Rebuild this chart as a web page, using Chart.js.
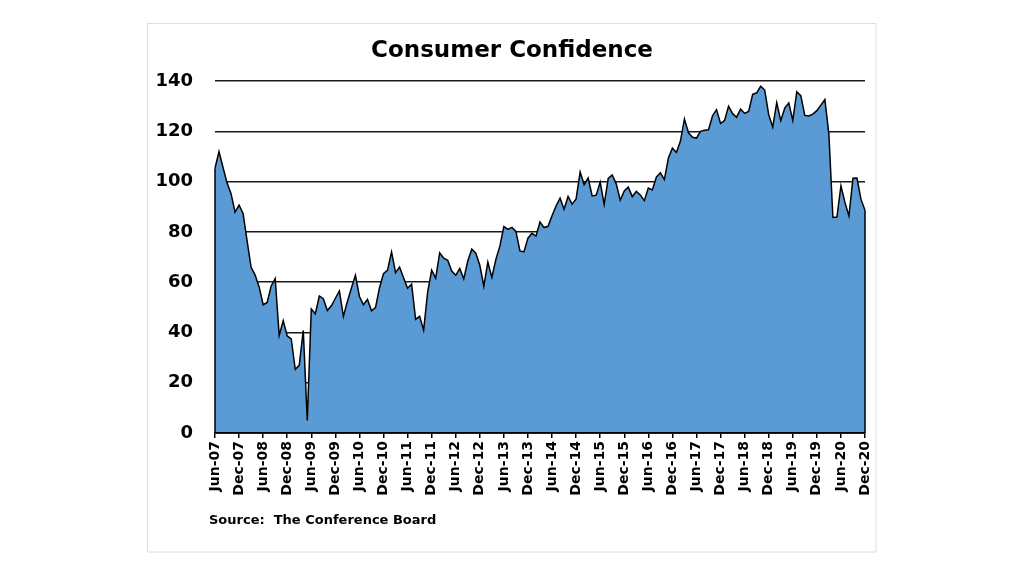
<!DOCTYPE html>
<html>
<head>
<meta charset="utf-8">
<title>Consumer Confidence</title>
<script src="https://cdn.jsdelivr.net/npm/chart.js@4.4.1/dist/chart.umd.min.js"></script>
<style>
  html, body { margin: 0; padding: 0; background: #fff; }
  #wrap { width: 1024px; height: 576px; }
</style>
</head>
<body>
<div id="wrap"><canvas id="confChart" width="1024" height="576"></canvas></div>
<script>
// Consumer Confidence Index (The Conference Board), monthly Jun-07 .. Dec-20
const monthNames = ['Jan', 'Feb', 'Mar', 'Apr', 'May', 'Jun', 'Jul', 'Aug', 'Sep', 'Oct', 'Nov', 'Dec'];
const firstYear = 2007;
const firstMonth = 5;   // Jun
const lastYear = 2020;

const v2007 = [105.3, 111.9, 105.6, 99.5, 95.2, 87.8, 90.6];
const v2008 = [87.3, 76.4, 65.9, 62.8, 58.1, 51.0, 51.9, 58.5, 61.4, 38.8, 44.7, 38.6];
const v2009 = [37.4, 25.3, 26.9, 40.8, 5.0, 49.3, 47.4, 54.5, 53.4, 48.7, 50.6, 53.6];
const v2010 = [56.5, 46.4, 52.3, 57.7, 62.7, 54.3, 51.0, 53.2, 48.6, 49.9, 57.8, 63.4];
const v2011 = [64.8, 72.0, 63.8, 66.0, 61.7, 57.6, 59.2, 45.2, 46.4, 40.9, 56.0, 64.8];
const v2012 = [61.5, 71.6, 69.5, 68.7, 64.4, 62.7, 65.4, 61.3, 68.4, 73.1, 71.5, 66.7];
const v2013 = [58.4, 68.0, 61.9, 69.0, 74.3, 82.1, 81.0, 81.8, 80.2, 72.4, 72.0, 77.5];
const v2014 = [79.4, 78.3, 83.9, 81.7, 82.2, 86.4, 90.3, 93.4, 89.0, 94.1, 91.0, 93.1];
const v2015 = [103.8, 98.8, 101.4, 94.3, 94.6, 99.8, 90.9, 101.3, 102.6, 99.1, 92.6, 96.3];
const v2016 = [97.8, 94.0, 96.1, 94.7, 92.4, 97.4, 96.7, 101.8, 103.5, 100.8, 109.4, 113.3];
const v2017 = [111.6, 116.1, 124.9, 119.4, 117.6, 117.3, 120.0, 120.4, 120.6, 126.2, 128.6, 123.1];
const v2018 = [124.3, 130.0, 127.0, 125.6, 128.8, 127.1, 127.9, 134.7, 135.3, 137.9, 136.4, 126.6];
const v2019 = [121.7, 131.4, 124.2, 129.2, 131.3, 124.3, 135.7, 134.2, 126.3, 126.1, 126.8, 128.2];
const v2020 = [130.4, 132.6, 118.8, 85.7, 85.9, 98.3, 91.7, 86.3, 101.3, 101.4, 92.9, 88.6];

const confidence = [].concat(v2007, v2008, v2009, v2010, v2011, v2012, v2013,
  v2014, v2015, v2016, v2017, v2018, v2019, v2020);

const yTicks = [0, 20, 40, 60, 80, 100, 120, 140];
const labelEvery = 6;  // a label every six months

// month labels like "Jun-07"
const monthLabels = [];
for (let y = firstYear; y <= lastYear; y++) {
  for (let m = (y === firstYear ? firstMonth : 0); m < 12; m++) {
    monthLabels.push(monthNames[m] + '-' + String(y % 100).padStart(2, '0'));
  }
}

const FONT = '"DejaVu Sans", Verdana, sans-serif';

// white page, light frame, title and source line
const frameAndText = {
  id: 'frameAndText',
  beforeDraw(chart) {
    const ctx = chart.ctx;
    ctx.save();
    ctx.fillStyle = '#ffffff';
    ctx.fillRect(0, 0, chart.width, chart.height);
    ctx.strokeStyle = '#dedede';
    ctx.lineWidth = 1;
    ctx.strokeRect(147.5, 23.5, 728.5, 528.5);
    ctx.restore();
  },
  afterDraw(chart) {
    const ctx = chart.ctx;
    ctx.save();
    ctx.fillStyle = '#000';
    ctx.textBaseline = 'alphabetic';
    ctx.textAlign = 'center';
    ctx.font = 'bold 23px ' + FONT;
    ctx.fillText('Consumer Confidence', 512, 57);
    ctx.textAlign = 'left';
    ctx.font = 'bold 13px ' + FONT;
    ctx.fillText('Source:  The Conference Board', 209, 524);
    ctx.restore();
  }
};

// close the area outline at the left and right ends, like the original
const areaEdges = {
  id: 'areaEdges',
  afterDatasetsDraw(chart) {
    const pts = chart.getDatasetMeta(0).data;
    if (!pts.length) return;
    const base = chart.scales.y.getPixelForValue(0);
    const ctx = chart.ctx;
    ctx.save();
    ctx.strokeStyle = '#000';
    ctx.lineWidth = 1.5;
    ctx.beginPath();
    [pts[0], pts[pts.length - 1]].forEach(p => {
      ctx.moveTo(p.x, p.y);
      ctx.lineTo(p.x, base);
    });
    ctx.stroke();
    ctx.restore();
  }
};

const ctx = document.getElementById('confChart').getContext('2d');
new Chart(ctx, {
  type: 'line',
  data: {
    labels: monthLabels,
    datasets: [{
      label: 'Consumer Confidence',
      data: confidence,
      borderColor: '#000000',
      backgroundColor: '#5b9bd5',
      borderWidth: 1.5,
      fill: 'origin',
      tension: 0,
      pointRadius: 0
    }]
  },
  options: {
    responsive: false,
    animation: false,
    layout: {
      padding: { left: 0, top: 81, right: 159, bottom: 0 }
    },
    plugins: {
      legend: { display: false },
      title: { display: false },
      tooltip: { enabled: false }
    },
    scales: {
      x: {
        type: 'category',
        offset: false,
        afterFit: function(scale) { scale.height = 143; },
        grid: {
          drawOnChartArea: false,
          drawTicks: true,
          tickLength: 5,
          lineWidth: 1.5,
          color: function(c) { return c.index % labelEvery === 0 ? '#000' : 'rgba(0,0,0,0)'; }
        },
        border: { display: true, color: '#000', width: 1.8, z: 1 },
        ticks: {
          autoSkip: false,
          minRotation: 90,
          maxRotation: 90,
          padding: 3,
          color: '#000',
          font: { family: FONT, size: 14, weight: 'bold' },
          callback: function(value, index) {
            return index % labelEvery === 0 ? monthLabels[index] : '';
          }
        }
      },
      y: {
        min: yTicks[0],
        max: yTicks[yTicks.length - 1],
        afterFit: function(scale) { scale.width = 215; },
        afterBuildTicks: function(scale) {
          scale.ticks = yTicks.map(v => ({ value: v }));
        },
        grid: {
          drawTicks: false,
          color: '#1a1a1a',
          lineWidth: 1.4
        },
        border: { display: false },
        ticks: {
          padding: 22,
          color: '#000',
          font: { family: FONT, size: 18, weight: 'bold' }
        }
      }
    }
  },
  plugins: [frameAndText, areaEdges]
});
</script>
</body>
</html>
